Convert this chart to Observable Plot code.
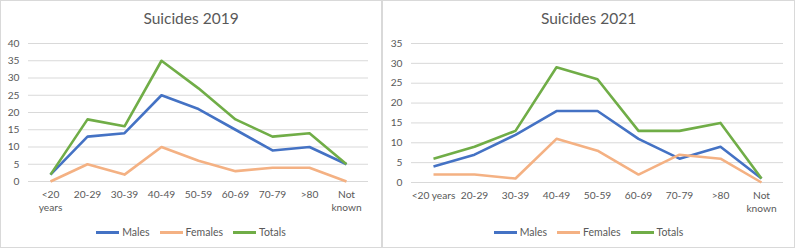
<!DOCTYPE html>
<html><head><meta charset="utf-8">
<script src="https://cdn.jsdelivr.net/npm/d3@7"></script>
<script src="https://cdn.jsdelivr.net/npm/@observablehq/plot@0.6"></script>
<style>
body{margin:0;background:#fff;font-family:Lato,"Open Sans",sans-serif;}
#wrap{position:relative;width:796px;height:249px;overflow:hidden;background:#fff}
.panel{position:absolute;top:0;height:248px;border:1px solid #d9d9d9;box-sizing:border-box;background:#fff}
.title{position:absolute;top:7px;left:0;right:0;text-align:center;font-size:15.5px;color:#595959;line-height:20px}
.plot{position:absolute;top:0;left:0}
.legend{position:absolute;top:224px;left:0;right:0;display:flex;justify-content:center;font-size:10.5px;color:#595959;line-height:14px}
.item{display:flex;align-items:center;margin:0 5px}
.swatch{width:23px;height:3px;margin-right:3px}
</style>
</head><body>
<div id="wrap"></div>
<script>
const categories2019 = ["<20\nyears","20-29","30-39","40-49","50-59","60-69","70-79",">80","Not\nknown"];
const categories2021 = ["<20 years","20-29","30-39","40-49","50-59","60-69","70-79",">80","Not\nknown"];
const seriesNames = ["Males","Females","Totals"];
const seriesColors = ["#4472C4","#F4B183","#70AD47"];
const males2019   = [2,13,14,25,21,15,9,10,5];
const females2019 = [0,5,2,10,6,3,4,4,0];
const totals2019  = [2,18,16,35,27,18,13,14,5];
const males2021   = [4,7,12,18,18,11,6,9,1];
const females2021 = [2,2,1,11,8,2,7,6,0];
const totals2021  = [6,9,13,29,26,13,13,15,1];
const yTicks2019 = [0,5,10,15,20,25,30,35,40];
const yTicks2021 = [0,5,10,15,20,25,30,35];

function makePanel(cfg){
  const panel = document.createElement("div");
  panel.className = "panel";
  panel.style.left = cfg.left + "px";
  panel.style.width = cfg.width + "px";
  const rows = [];
  cfg.series.forEach((vals, s) => vals.forEach((v, i) => rows.push({cat: cfg.cats[i], v, s: seriesNames[s]})));
  const svg = Plot.plot({
    width: cfg.width - 2, height: 220,
    marginLeft: cfg.ml, marginRight: cfg.mr, marginTop: 42, marginBottom: cfg.mb,
    style: {fontFamily: "Lato, 'Open Sans', sans-serif", fontSize: "10.2px", color: "#595959", background: "transparent"},
    x: {type: "point", domain: cfg.cats, padding: 0.5},
    y: {domain: [0, cfg.ymax]},
    color: {domain: seriesNames, range: seriesColors},
    marks: [
      Plot.gridY(cfg.yticks, {stroke: "#d9d9d9", strokeOpacity: 1, strokeWidth: 1}),
      Plot.axisY(cfg.yticks, {tickSize: 0, tickPadding: 9, label: null, fill: "#595959"}),
      Plot.axisX({tickSize: 0, tickPadding: 7, label: null, lineHeight: 1.3, fill: "#595959"}),
      Plot.line(rows, {x: "cat", y: "v", z: "s", stroke: "s", strokeWidth: 2.6, strokeLinejoin: "round", strokeLinecap: "butt"})
    ]
  });
  svg.classList.add("plot");
  panel.appendChild(svg);
  const t = document.createElement("div");
  t.className = "title"; t.textContent = cfg.title;
  panel.appendChild(t);
  const lg = document.createElement("div");
  lg.className = "legend";
  seriesNames.forEach((n, i) => {
    const it = document.createElement("div"); it.className = "item";
    const sw = document.createElement("div"); sw.className = "swatch"; sw.style.background = seriesColors[i];
    const tx = document.createElement("span"); tx.textContent = n;
    it.appendChild(sw); it.appendChild(tx); lg.appendChild(it);
  });
  panel.appendChild(lg);
  document.getElementById("wrap").appendChild(panel);
}
makePanel({left: 0, width: 382, title: "Suicides 2019", cats: categories2019, series: [males2019, females2019, totals2019], ymax: 40, yticks: yTicks2019, ml: 27, mr: 13, mb: 40});
makePanel({left: 382, width: 413, title: "Suicides 2021", cats: categories2021, series: [males2021, females2021, totals2021], ymax: 35, yticks: yTicks2021, ml: 28, mr: 11, mb: 39});
</script>
</body></html>
